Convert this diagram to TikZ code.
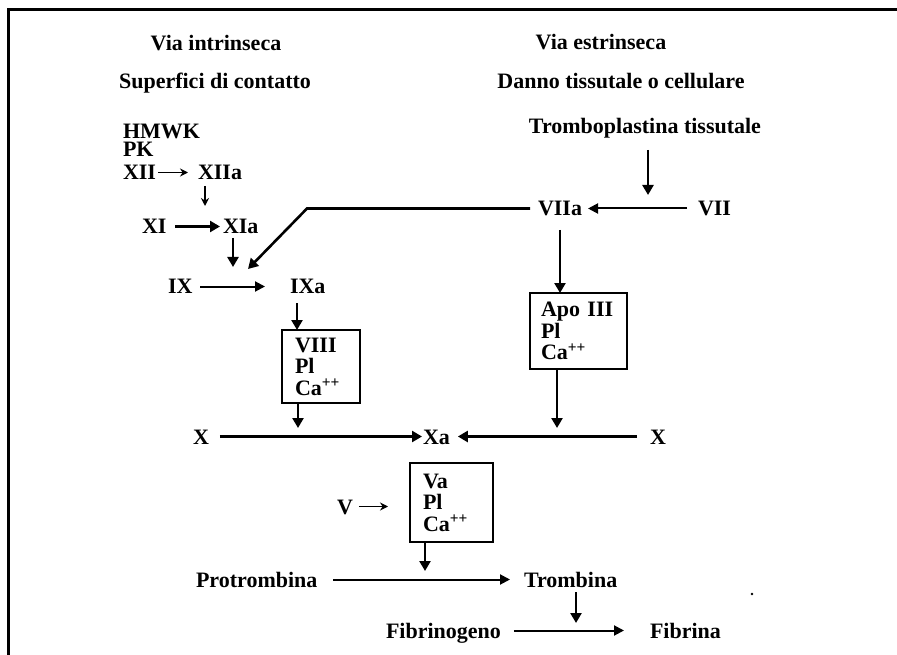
\documentclass[tikz,border=0pt]{standalone}
\usepackage{fontspec}
\setmainfont{Liberation Serif}
\usetikzlibrary{arrows.meta,calc}
\begin{document}
\begin{tikzpicture}[x=1pt,y=-1pt,
 lbl/.style={font=\fontsize{22}{22}\selectfont\bfseries, inner sep=0pt, outer sep=0pt, text height=15pt, text depth=0pt},
 stack/.style={font=\fontsize{22}{18}\selectfont\bfseries, inner sep=0pt, outer sep=0pt, align=left},
 lw/.style={anchor=base west},
 lc/.style={anchor=base},
 arr/.style={line width=2.6pt, -{Triangle[length=10pt,width=11pt]}},
 marr/.style={line width=2pt, -{Triangle[length=10pt,width=10pt]}},
 tarr/.style={line width=1.3pt, -{Stealth[length=8pt,width=8pt]}},
 box/.style={draw, line width=2.6pt, outer sep=0pt, font=\fontsize{22}{21.5}\selectfont\bfseries, align=left, inner ysep=0pt}
]
\useasboundingbox (0,0) rectangle (897,655);
\fill[white] (0,0) rectangle (897,655);
% frame
\draw[line width=2.5pt, line join=miter] (8.7,655) -- (8.7,9.5) -- (897,9.5);

% headings
\node[lbl, lc] (vi) at (216,51) {Via intrinseca};
\node[lbl, lc] (sc) at (215,89) {Superfici di contatto};
\node[lbl, lc] (ve) at (601,50) {Via estrinseca};
\node[lbl, lc] (dt) at (621,89) {Danno tissutale o cellulare};
\node[lbl, lc] (tt) at (645,134) {Tromboplastina tissutale};

% intrinsic
\node[stack, anchor=base west] (hmwk) at (123,157) {HMWK\\PK};
\node[lbl, lw] (xii) at (123,180) {XII};
\node[lbl, lw] (xiia) at (198,180) {XIIa};
\node[lbl, lw] (xi) at (142,234) {XI};
\node[lbl, lw] (xia) at (223,234) {XIa};
\node[lbl, lw] (ix) at (168,294) {IX};
\node[lbl, lw] (ixa) at (290,294) {IXa};

% extrinsic
\node[lbl, lw] (viia) at (538,216) {VIIa};
\node[lbl, lw] (vii) at (698,216) {VII};

% common
\node[lbl, lw] (xl) at (193,444) {X};
\node[lbl, lw] (xa) at (423,444) {Xa};
\node[lbl, lw] (xr) at (650,444) {X};
\node[lbl, lw] (v) at (337,514) {V};
\node[lbl, lw] (pt) at (196,587) {Protrombina};
\node[lbl, lw] (tr) at (524,587) {Trombina};
\node[lbl, lw] (fg) at (386,638) {Fibrinogeno};
\node[lbl, lw] (fb) at (650,638) {Fibrina};

% boxes
\node[box, inner xsep=13pt, minimum width=78pt, minimum height=73pt, text width=52pt] (b8) at (321,366.5) {VIII\\Pl\\Ca\textsuperscript{++}};
\node[box, inner xsep=11pt, minimum width=97pt, minimum height=76pt, text width=75pt] (apo) at (578.5,331) {Apo III\\Pl\\Ca\textsuperscript{++}};
\node[box, inner xsep=13pt, minimum width=83pt, minimum height=79pt, text width=57pt] (va) at (451.5,502.5) {Va\\Pl\\Ca\textsuperscript{++}};

% free ends
\coordinate (j0) at (205,206);
\coordinate (j1) at (648,195);
\coordinate (j2) at (233,267);
\coordinate (c1) at (307,208.5);
\coordinate (j3) at (248,269);
\coordinate (j4) at (298,428);
\coordinate (j5) at (557,428);
\coordinate (j6) at (425,571);
\coordinate (j7) at (576,623);

% connectors
\draw[tarr, shorten <=2pt, shorten >=10pt] (xii.east) -- (xiia.west);
\draw[tarr] ($(xiia.south west)+(7,6)$) -- (j0);
\draw[arr, shorten <=9pt, shorten >=3pt] (xi.east) -- (xia.west);
\draw[arr] ($(xia.south west)+(10,4)$) -- (j2);
\draw[marr, shorten <=8pt, shorten >=25pt] (ix.east) -- (ixa.west);
\draw[arr, shorten <=8pt] (viia.west) -- (c1) -- (j3);
\draw[marr, shorten <=11pt, shorten >=6pt] (vii.west) -- (viia.east);
\draw[arr] ($(tt.south)+(3,16)$) -- (j1);
\draw[arr] ($(viia.south west)+(22,14)$) -- ($(apo.north west)+(30,0)$);
\draw[arr] ($(ixa.south west)+(7,9)$) -- ($(b8.north west)+(15,0)$);
\draw[arr] ($(b8.south west)+(16,0)$) -- (j4);
\draw[arr] ($(apo.south west)+(27,0)$) -- (j5);
\draw[arr, shorten <=11pt, shorten >=1pt] (xl.east) -- (xa.west);
\draw[arr, shorten <=13pt, shorten >=8pt] (xr.west) -- (xa.east);
\draw[tarr, shorten <=6pt, shorten >=22pt] (v.east) -- (va.west |- v.east);
\draw[arr] ($(va.south west)+(15,0)$) -- (j6);
\draw[marr, shorten <=16pt, shorten >=14pt] (pt.east) -- (tr.west);
\draw[arr] ($(tr.south west)+(52,5)$) -- (j7);
\draw[marr, shorten <=13pt, shorten >=26pt] (fg.east) -- (fb.west);

\fill (752,594) circle (1.3pt);
\end{tikzpicture}
\end{document}
